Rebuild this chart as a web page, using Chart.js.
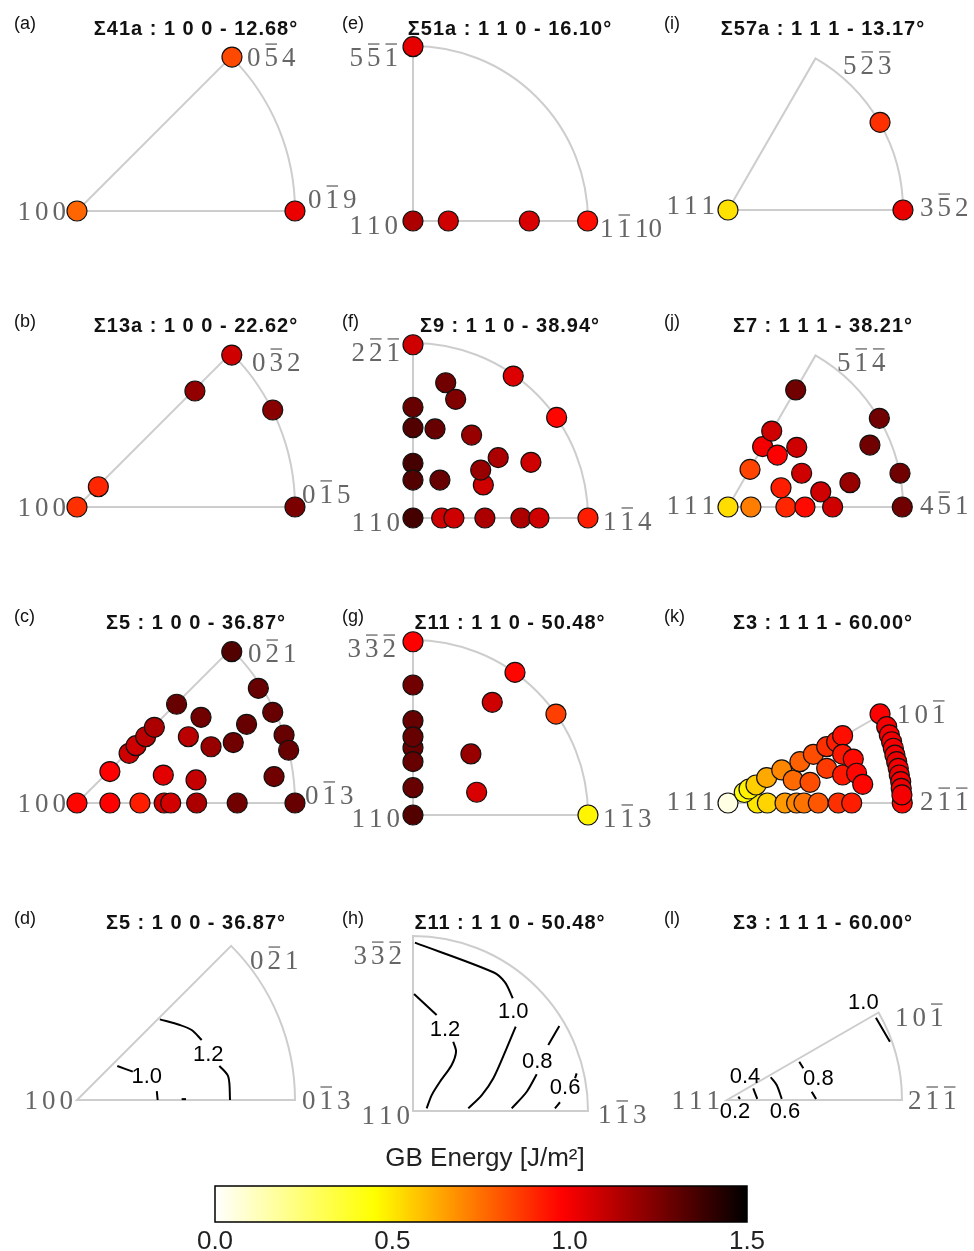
<!DOCTYPE html>
<html>
<head>
<meta charset="utf-8">
<script src="https://cdn.jsdelivr.net/npm/chart.js@4.4.0/dist/chart.umd.min.js"></script>
<style>
    html, body { margin: 0; padding: 0; background: #fff; }
    #page { position: relative; width: 974px; height: 1251px; overflow: hidden; }
    #page canvas { position: absolute; }
</style>
</head>
<body>
<div id="page"></div>
<script>
// Point positions are in sector units: sector centre = (0,0), sector radius = 1.
// Energies in J/m^2.

// (a) Σ41a : 100
const aX = [0, 0.711, 1.0];
const aY = [0, 0.706, 0];
const aE = [0.77, 0.83, 1.02];

// (b) Σ13a : 100
const bX = [0, 0.098, 0.541, 0.71, 0.898, 1.0];
const bY = [0, 0.093, 0.532, 0.697, 0.445, 0];
const bE = [0.88, 0.9, 1.2, 1.08, 1.22, 1.25];

// (c) Σ5 : 100
const cX = [0, 0.151, 0.289, 0.4, 0.43, 0.549, 0.735, 1.0, 0.151, 0.396, 0.546, 0.904, 0.239, 0.271,
            0.315, 0.355, 0.457, 0.511, 0.615, 0.569, 0.717, 0.778, 0.832, 0.898, 0.95, 0.971, 0.71];
const cY = [0, 0, 0, 0, 0, 0, 0, 0, 0.144, 0.128, 0.106, 0.121, 0.228, 0.263,
            0.304, 0.347, 0.453, 0.304, 0.258, 0.393, 0.277, 0.361, 0.526, 0.416, 0.312, 0.242, 0.694];
const cE = [0.97, 0.98, 0.92, 1.07, 1.07, 1.15, 1.27, 1.29, 0.98, 1.04, 1.1, 1.27, 1.08, 1.08,
            1.12, 1.15, 1.29, 1.12, 1.19, 1.27, 1.27, 1.29, 1.29, 1.29, 1.29, 1.29, 1.33];

// (d) Σ5 : 100 contour lines
const dLinesX = [[0.38, 0.472, 0.526, 0.572], [0.653, 0.694, 0.702], [0.185, 0.256], [0.366, 0.37], [0.48, 0.5]];
const dLinesY = [[0.37, 0.344, 0.321, 0.275], [0.157, 0.107, 0.0], [0.156, 0.13], [0.041, 0.0], [0.004, 0.004]];
const dLevels = ['1.2', '1.0'];
const dLevelX = [0.602, 0.32];
const dLevelY = [0.206, 0.107];

// (e) Σ51a : 110
const eX = [0, 0, 0.202, 0.665, 0.998];
const eY = [0.996, 0, 0, 0, 0];
const eE = [1.03, 1.15, 1.08, 1.06, 0.95];

// (f) Σ9 : 110
const fX = [0, 0.573, 0.821, 1.0, 0.187, 0.244, 0, 0, 0.126, 0.335, 0, 0, 0.154, 0.487, 0.402, 0.387,
            0.674, 0, 0.164, 0.234, 0.411, 0.617, 0.72];
const fY = [0.99, 0.811, 0.575, 0, 0.773, 0.678, 0.633, 0.516, 0.509, 0.474, 0.313, 0.217, 0.217, 0.345, 0.189, 0.274,
            0.318, 0, 0, 0, 0, 0, 0];
const fE = [1.08, 1.05, 0.97, 0.92, 1.27, 1.24, 1.29, 1.33, 1.29, 1.19, 1.36, 1.33, 1.29, 1.15, 1.08, 1.19,
            1.08, 1.36, 1.08, 1.08, 1.15, 1.15, 1.08];

// (g) Σ11 : 110
const gX = [0, 0.583, 0.817, 1.0, 0.453, 0, 0, 0, 0, 0, 0, 0, 0.331, 0.364];
const gY = [0.99, 0.815, 0.577, 0, 0.644, 0.743, 0.539, 0.385, 0.305, 0.447, 0.156, 0, 0.349, 0.13];
const gE = [0.98, 0.97, 0.85, 0.47, 1.08, 1.27, 1.29, 1.29, 1.29, 1.29, 1.29, 1.33, 1.19, 1.06];

// (h) Σ11 : 110 contour lines
const hLinesX = [[0.011, 0.459, 0.526, 0.57], [0.587, 0.535, 0.459, 0.393, 0.316],
                 [0.006, 0.135], [0.23, 0.246, 0.221, 0.154, 0.107, 0.078],
                 [0.836, 0.773], [0.707, 0.65, 0.564], [0.935, 0.926], [0.84, 0.811]];
const hLinesY = [[0.962, 0.793, 0.735, 0.644], [0.482, 0.358, 0.187, 0.091, 0.015],
                 [0.669, 0.549], [0.396, 0.339, 0.263, 0.167, 0.091, 0.015],
                 [0.486, 0.377], [0.21, 0.11, 0.015], [0.215, 0.187], [0.05, 0.015]];
const hLevels = ['1.0', '1.2', '0.8', '0.6'];
const hLevelX = [0.573, 0.183, 0.71, 0.869];
const hLevelY = [0.564, 0.463, 0.282, 0.133];

// (i) Σ57a : 111
const iX = [0, 0.869, 1.0];
const iY = [0, 0.501, 0];
const iE = [0.51, 0.88, 1.02];

// (j) Σ7 : 111
const jX = [0, 0.131, 0.331, 0.44, 0.598, 0.996, 0.126, 0.303, 0.53, 0.421, 0.697, 0.983, 0.198, 0.282,
            0.393, 0.25, 0.811, 0.865, 0.387];
const jY = [0, 0, 0, 0, 0, 0, 0.215, 0.11, 0.087, 0.193, 0.139, 0.193, 0.345, 0.297,
            0.341, 0.434, 0.354, 0.507, 0.669];
const jE = [0.52, 0.72, 0.9, 0.96, 1.08, 1.27, 0.84, 0.92, 1.08, 1.08, 1.19, 1.27, 1.0, 0.98,
            1.08, 1.08, 1.27, 1.27, 1.27];

// (k) Σ3 : 111
const kX = [0, 0.168, 0.225, 0.326, 0.392, 0.434, 0.516, 0.63, 0.707, 0.996,
            0.093, 0.12, 0.16, 0.221, 0.307, 0.373, 0.469, 0.411, 0.488, 0.564, 0.564, 0.621, 0.655,
            0.655, 0.655, 0.716, 0.735, 0.77, 0.869,
            0.907, 0.922, 0.935, 0.945, 0.954, 0.964, 0.973, 0.979, 0.987, 0.99, 0.994];
const kY = [0, 0, 0, 0, 0, 0, 0, 0, 0, 0,
            0.06, 0.08, 0.103, 0.145, 0.189, 0.131, 0.118, 0.236, 0.278, 0.198, 0.322, 0.35, 0.385,
            0.16, 0.278, 0.251, 0.17, 0.107, 0.509,
            0.436, 0.389, 0.35, 0.313, 0.274, 0.236, 0.198, 0.16, 0.122, 0.084, 0.046];
const kE = [0.05, 0.5, 0.54, 0.66, 0.7, 0.74, 0.8, 0.88, 0.92, 0.97,
            0.43, 0.48, 0.55, 0.63, 0.7, 0.76, 0.82, 0.78, 0.82, 0.86, 0.88, 0.92, 0.95,
            0.93, 0.93, 0.96, 0.97, 0.97, 0.98,
            1.0, 1.0, 1.01, 1.0, 1.01, 1.02, 1.01, 1.02, 1.01, 1.02, 1.0];

// (l) Σ3 : 111 contour lines
const lLinesX = [[0.851, 0.931], [0.413, 0.436], [0.484, 0.509], [0.25, 0.284, 0.313], [0.15, 0.173], [0.065, 0.074]];
const lLinesY = [[0.47, 0.333], [0.219, 0.181], [0.047, 0.006], [0.13, 0.086, 0.006], [0.067, 0.006], [0.019, 0.006]];
const lLevels = ['1.0', '0.8', '0.6', '0.4', '0.2'];
const lLevelX = [0.779, 0.522, 0.331, 0.103, 0.046];
const lLevelY = [0.553, 0.118, -0.067, 0.133, -0.067];

// colour bar
const cbTicks = [0, 0.5, 1.0, 1.5];
const cbTickLabels = ['0.0', '0.5', '1.0', '1.5'];
const cbMin = 0, cbMax = 1.5;

// colour map (reversed "hot"): energy -> rgb
const cmapStops = [[0, [255, 255, 255]], [0.45, [255, 255, 0]], [0.98, [255, 0, 0]], [1.5, [0, 0, 0]]];

function energyColor(v) {
    const s = cmapStops;
    if (v <= s[0][0]) return `rgb(${s[0][1].join(',')})`;
    for (let i = 1; i < s.length; i++) {
        if (v <= s[i][0]) {
            const t = (v - s[i - 1][0]) / (s[i][0] - s[i - 1][0]);
            const c = s[i - 1][1].map((a, k) => Math.round(a + (s[i][1][k] - a) * t));
            return `rgb(${c.join(',')})`;
        }
    }
    return `rgb(${s[s.length - 1][1].join(',')})`;
}

// layout of the 4x3 grid (page pixels)
const colLeft = [0, 330, 650];
const colWidth = [370, 350, 324];
const rowTop = [0, 297, 593, 890];
const rowHeight = [297, 297, 297, 245];
const titleCenter = [196, 510, 823];
const letterLeft = [14, 342, 664];
const titleBase = [35, 332, 629, 929];
const letterBase = [29, 327, 622, 924];

const panels = [
    { letter: '(a)', title: 'Σ41a : 1 0 0 - 12.68°', col: 0, row: 0, cx: 77, cy: 211, R: 218, angle: 45,
      px: aX, py: aY, pe: aE,
      labels: [['1 0 0', -0.05, 0, 'right'], ['0 -5 4', 0.78, 0.706, 'left'], ['0 -1 9', 1.06, 0.055, 'left']] },
    { letter: '(b)', title: 'Σ13a : 1 0 0 - 22.62°', col: 0, row: 1, cx: 77, cy: 507, R: 218, angle: 45,
      px: bX, py: bY, pe: bE,
      labels: [['1 0 0', -0.05, 0, 'right'], ['0 -3 2', 0.803, 0.665, 'left'], ['0 -1 5', 1.032, 0.06, 'left']] },
    { letter: '(c)', title: 'Σ5 : 1 0 0 - 36.87°', col: 0, row: 2, cx: 77, cy: 803, R: 218, angle: 45,
      px: cX, py: cY, pe: cE,
      labels: [['1 0 0', -0.05, 0, 'right'], ['0 -2 1', 0.784, 0.688, 'left'], ['0 -1 3', 1.046, 0.037, 'left']] },
    { letter: '(d)', title: 'Σ5 : 1 0 0 - 36.87°', col: 0, row: 3, cx: 77, cy: 1100, R: 218, angle: 45,
      lx: dLinesX, ly: dLinesY, lev: dLevels, levX: dLevelX, levY: dLevelY,
      labels: [['1 0 0', -0.018, 0, 'right'], ['0 -2 1', 0.794, 0.642, 'left'], ['0 -1 3', 1.032, 0, 'left']] },
    { letter: '(e)', title: 'Σ51a : 1 1 0 - 16.10°', col: 1, row: 0, cx: 413, cy: 221, R: 175, angle: 90,
      px: eX, py: eY, pe: eE,
      labels: [['5 -5 -1', -0.086, 0.937, 'right'], ['1 1 0', -0.086, -0.023, 'right'], ['1 -1 10', 1.069, -0.04, 'left']] },
    { letter: '(f)', title: 'Σ9 : 1 1 0 - 38.94°', col: 1, row: 1, cx: 413, cy: 518, R: 175, angle: 90,
      px: fX, py: fY, pe: fE,
      labels: [['2 -2 -1', -0.074, 0.949, 'right'], ['1 1 0', -0.074, -0.023, 'right'], ['1 -1 4', 1.086, -0.017, 'left']] },
    { letter: '(g)', title: 'Σ11 : 1 1 0 - 50.48°', col: 1, row: 2, cx: 413, cy: 815, R: 175, angle: 90,
      px: gX, py: gY, pe: gE,
      labels: [['3 -3 -2', -0.097, 0.954, 'right'], ['1 1 0', -0.074, -0.017, 'right'], ['1 -1 3', 1.086, -0.017, 'left']] },
    { letter: '(h)', title: 'Σ11 : 1 1 0 - 50.48°', col: 1, row: 3, cx: 413, cy: 1111, R: 175, angle: 90,
      lx: hLinesX, ly: hLinesY, lev: hLevels, levX: hLevelX, levY: hLevelY,
      labels: [['3 -3 -2', -0.063, 0.891, 'right'], ['1 1 0', -0.017, -0.023, 'right'], ['1 -1 3', 1.057, -0.017, 'left']] },
    { letter: '(i)', title: 'Σ57a : 1 1 1 - 13.17°', col: 2, row: 0, cx: 728, cy: 210, R: 175, angle: 60,
      px: iX, py: iY, pe: iE,
      labels: [['1 1 1', -0.074, 0.029, 'right'], ['5 -2 -3', 0.657, 0.829, 'left'], ['3 -5 2', 1.097, 0.017, 'left']] },
    { letter: '(j)', title: 'Σ7 : 1 1 1 - 38.21°', col: 2, row: 1, cx: 728, cy: 507, R: 175, angle: 60,
      px: jX, py: jY, pe: jE,
      labels: [['1 1 1', -0.074, 0.011, 'right'], ['5 -1 -4', 0.623, 0.829, 'left'], ['4 -5 1', 1.097, 0.011, 'left']] },
    { letter: '(k)', title: 'Σ3 : 1 1 1 - 60.00°', col: 2, row: 2, cx: 728, cy: 803, R: 175, angle: 30,
      px: kX, py: kY, pe: kE,
      labels: [['1 1 1', -0.074, 0.011, 'right'], ['1 0 -1', 0.966, 0.509, 'left'], ['2 -1 -1', 1.097, 0.011, 'left']] },
    { letter: '(l)', title: 'Σ3 : 1 1 1 - 60.00°', col: 2, row: 3, cx: 727, cy: 1100, R: 175, angle: 30,
      lx: lLinesX, ly: lLinesY, lev: lLevels, levX: lLevelX, levY: lLevelY,
      labels: [['1 1 1', -0.04, 0, 'right'], ['1 0 -1', 0.96, 0.474, 'left'], ['2 -1 -1', 1.034, 0, 'left']] }
];

const MILLER_FONT = '27px "Liberation Serif"';
const MILLER_COLOR = '#666';

// Miller indices: "-5" means 5 with an overbar
function drawMiller(ctx, text, px, py, align) {
    const toks = text.split(' ');
    const gap = 4;
    ctx.font = MILLER_FONT;
    const widths = toks.map(t => ctx.measureText(t.replace('-', '')).width);
    const total = widths.reduce((s, w) => s + w, 0) + gap * (toks.length - 1);
    let x = align === 'right' ? px - total : px;
    ctx.fillStyle = MILLER_COLOR;
    ctx.strokeStyle = MILLER_COLOR;
    ctx.lineWidth = 1.3;
    ctx.textAlign = 'left';
    ctx.textBaseline = 'alphabetic';
    toks.forEach((t, i) => {
        const bar = t.startsWith('-');
        const s = bar ? t.slice(1) : t;
        ctx.fillText(s, x, py + 9);
        if (bar) {
            ctx.beginPath();
            ctx.moveTo(x + 1, py - 13);
            ctx.lineTo(x + widths[i] - 1, py - 13);
            ctx.stroke();
        }
        x += widths[i] + gap;
    });
}

function makePanelPlugin(p, left, top) {
    return {
        id: 'panel' + p.letter,
        beforeDatasetsDraw(chart) {
            const { ctx, scales: { x, y } } = chart;
            const ox = x.getPixelForValue(0), oy = y.getPixelForValue(0);
            const r = x.getPixelForValue(1) - ox;
            const th = p.angle * Math.PI / 180;
            ctx.save();
            ctx.strokeStyle = '#cdcdcd';
            ctx.lineWidth = 2;
            ctx.beginPath();
            ctx.moveTo(ox, oy);
            ctx.lineTo(ox + r, oy);
            ctx.arc(ox, oy, r, 0, -th, true);
            ctx.closePath();
            ctx.stroke();
            ctx.restore();
        },
        afterDatasetsDraw(chart) {
            const { ctx, scales: { x, y } } = chart;
            ctx.save();
            // panel letter and title
            ctx.fillStyle = '#111';
            ctx.textBaseline = 'alphabetic';
            ctx.textAlign = 'left';
            ctx.font = '18px "Liberation Sans"';
            ctx.fillText(p.letter, letterLeft[p.col] - left, letterBase[p.row] - top);
            ctx.textAlign = 'center';
            ctx.font = 'bold 20px "Liberation Sans"';
            ctx.letterSpacing = '1px';
            ctx.fillText(p.title, titleCenter[p.col] - left, titleBase[p.row] - top);
            ctx.letterSpacing = '0px';
            // vertex labels
            p.labels.forEach(l => drawMiller(ctx, l[0], x.getPixelForValue(l[1]), y.getPixelForValue(l[2]), l[3]));
            // contour level labels
            if (p.lev) {
                ctx.fillStyle = '#000';
                ctx.font = '22px "Liberation Sans"';
                ctx.textAlign = 'center';
                ctx.textBaseline = 'middle';
                p.lev.forEach((t, i) => ctx.fillText(t, x.getPixelForValue(p.levX[i]), y.getPixelForValue(p.levY[i])));
            }
            ctx.restore();
        }
    };
}

const page = document.getElementById('page');

panels.forEach(p => {
    const left = colLeft[p.col], top = rowTop[p.row];
    const w = colWidth[p.col], h = rowHeight[p.row];
    const cv = document.createElement('canvas');
    cv.width = w;
    cv.height = h;
    cv.style.left = left + 'px';
    cv.style.top = top + 'px';
    page.appendChild(cv);

    const ox = p.cx - left, oy = p.cy - top;
    const datasets = [];
    if (p.px) {
        datasets.push({
            data: p.px.map((v, i) => ({ x: v, y: p.py[i] })),
            pointBackgroundColor: p.pe.map(energyColor),
            pointBorderColor: '#111',
            pointBorderWidth: 1.2,
            pointRadius: 10,
            clip: false
        });
    }
    if (p.lx) {
        p.lx.forEach((xs, k) => {
            datasets.push({
                data: xs.map((v, i) => ({ x: v, y: p.ly[k][i] })),
                showLine: true,
                pointRadius: 0,
                borderColor: '#000',
                borderWidth: 2,
                tension: 0.3,
                clip: false
            });
        });
    }

    new Chart(cv, {
        type: 'scatter',
        data: { datasets },
        options: {
            responsive: false,
            animation: false,
            events: [],
            layout: { padding: 0, autoPadding: false },
            plugins: { legend: { display: false }, tooltip: { enabled: false } },
            scales: {
                x: { type: 'linear', display: false, min: -ox / p.R, max: (w - ox) / p.R },
                y: { type: 'linear', display: false, min: -(h - oy) / p.R, max: oy / p.R }
            }
        },
        plugins: [makePanelPlugin(p, left, top)]
    });
});

// colour bar
const cbCanvas = document.createElement('canvas');
cbCanvas.width = 674;
cbCanvas.height = 121;
cbCanvas.style.left = '150px';
cbCanvas.style.top = '1130px';
page.appendChild(cbCanvas);

const colorbarPlugin = {
    id: 'colorbar',
    beforeDatasetsDraw(chart) {
        const { ctx, chartArea: a, scales: { x } } = chart;
        ctx.save();
        const grad = ctx.createLinearGradient(a.left, 0, a.right, 0);
        const n = 60;
        for (let i = 0; i <= n; i++) {
            grad.addColorStop(i / n, energyColor(cbMin + (cbMax - cbMin) * i / n));
        }
        ctx.fillStyle = grad;
        ctx.fillRect(a.left, a.top, a.right - a.left, a.bottom - a.top);
        ctx.strokeStyle = '#000';
        ctx.lineWidth = 1.5;
        ctx.strokeRect(a.left, a.top, a.right - a.left, a.bottom - a.top);

        ctx.fillStyle = '#222';
        ctx.font = '26px "Liberation Sans"';
        ctx.textAlign = 'center';
        ctx.textBaseline = 'alphabetic';
        cbTicks.forEach((t, i) => ctx.fillText(cbTickLabels[i], x.getPixelForValue(t), a.bottom + 27));
        ctx.fillText('GB Energy [J/m²]', 335, 36);
        ctx.restore();
    }
};

new Chart(cbCanvas, {
    type: 'scatter',
    data: { datasets: [{ data: [] }] },
    options: {
        responsive: false,
        animation: false,
        events: [],
        layout: { padding: { left: 65, right: 77, top: 56, bottom: 29 }, autoPadding: false },
        plugins: { legend: { display: false }, tooltip: { enabled: false } },
        scales: {
            x: { type: 'linear', display: false, min: cbMin, max: cbMax },
            y: { type: 'linear', display: false, min: 0, max: 1 }
        }
    },
    plugins: [colorbarPlugin]
});
</script>
</body>
</html>
